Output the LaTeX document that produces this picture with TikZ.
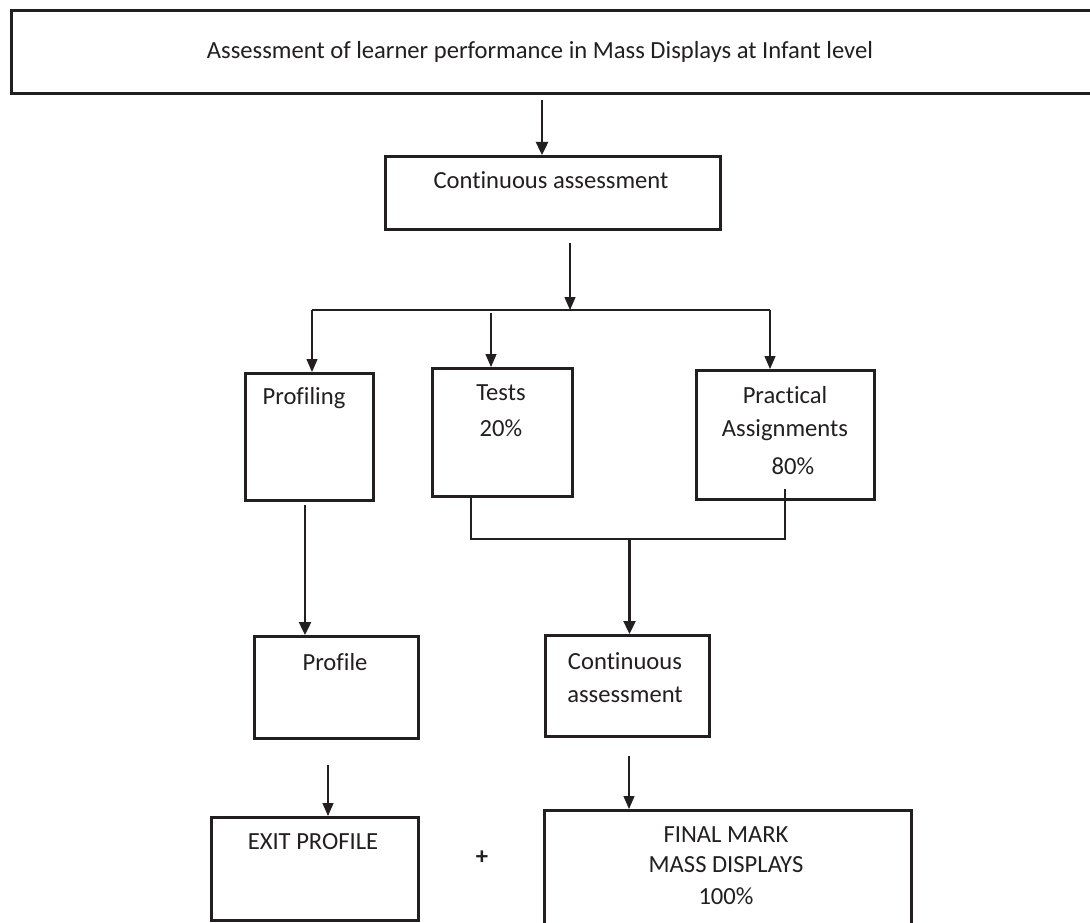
\documentclass[tikz,border=0pt]{standalone}
\usepackage{fontspec}
\setmainfont{Carlito}[RawFeature={-liga;-clig;-dlig}]
\usetikzlibrary{arrows.meta,calc}
\definecolor{ink}{HTML}{231F20}
\tikzset{
  box/.style={draw=ink, line width=2.6pt, rectangle, inner sep=0pt, anchor=north west},
  txt/.style={text=ink, font=\fontsize{24.6}{29}\selectfont, inner sep=0pt, anchor=center},
  thinarr/.style={draw=ink, line width=1.3pt, -{Triangle[length=13pt,width=11pt]}},
  thickarr/.style={draw=ink, line width=2.4pt, -{Triangle[length=13pt,width=12pt]}},
  thinline/.style={draw=ink, line width=1.3pt},
  thickline/.style={draw=ink, line width=2.8pt}
}
\begin{document}
\begin{tikzpicture}[x=1pt,y=-1pt]
\useasboundingbox (0,0) rectangle (1090,923);
\fill[white] (0,0) rectangle (1090,923);
% boxes
\node[box, minimum width=1100pt, minimum height=83pt] (top) at (10,9) {};
\node[box, minimum width=335pt, minimum height=73pt] (cont) at (384,155) {};
\node[box, minimum width=128pt, minimum height=127pt] (prof) at (244,372) {};
\node[box, minimum width=140pt, minimum height=128pt] (tests) at (431,367) {};
\node[box, minimum width=178pt, minimum height=129pt] (prac) at (695,369) {};
\node[box, minimum width=164pt, minimum height=102pt] (profile) at (253,635) {};
\node[box, minimum width=164pt, minimum height=101pt] (cont2) at (544,634) {};
\node[box, minimum width=207pt, minimum height=103pt] (exit) at (210,816) {};
\node[box, minimum width=367pt, minimum height=130pt] (final) at (543,809) {};
% texts
\node[txt] (ttop) at (540,52) {Assessment of learner performance in Mass Displays at Infant level};
\node[txt] (tcont) at (551,180) {Continuous assessment};
\node[txt] (tprof) at (304,398) {Profiling};
\node[txt] (ttests) at (501,393) {Tests};
\node[txt] (ttests2) at (501,428) {20\%};
\node[txt] (tprac) at (785,395) {Practical};
\node[txt] (tprac2) at (785,430) {Assignments};
\node[txt] (tprac3) at (793,466) {80\%};
\node[txt] (tprofile) at (335,662) {Profile};
\node[txt] (tcont2) at (625,661) {Continuous};
\node[txt] (tcont2b) at (625,695) {assessment};
\node[txt] (texit) at (313,842) {EXIT PROFILE};
\node[txt] (tfin) at (726,835) {FINAL MARK};
\node[txt] (tfin2) at (726,865) {MASS DISPLAYS};
\node[txt] (tfin3) at (726,896) {100\%};
\node[txt, font=\bfseries\fontsize{24.6}{29}\selectfont] (plus) at (482,858) {+};
% connectors
\coordinate (a1) at (542,100);
\draw[thickarr] (a1) -- (a1 |- cont.north);
\coordinate (a2) at (570,243);
\coordinate (bus) at (570,310);
\draw[thinarr] (a2) -- (bus);
\coordinate (busL) at (312,310);
\coordinate (busR) at (770,310);
\draw[thinline] (busL) -- (busR);
\draw[thinarr] (busL) -- (busL |- prof.north);
\coordinate (tb) at (491,313);
\draw[thinarr] (tb) -- (tb |- tests.north);
\draw[thinarr] (busR) -- (busR |- prac.north);
\coordinate (jl) at (471,498);
\coordinate (jr) at (785,489);
\coordinate (jy) at (0,539);
\draw[thickline] (jl) -- (jl |- jy) -- (jr |- jy) -- (jr);
\coordinate (jm) at (629.5,539);
\draw[thickarr] (jm) -- (jm |- cont2.north);
\coordinate (pp) at (305,505);
\draw[thickarr] (pp) -- (pp |- profile.north);
\coordinate (pe) at (328,765);
\draw[thinarr] (pe) -- (pe |- exit.north);
\coordinate (cf) at (629,756);
\draw[thinarr] (cf) -- (cf |- final.north);
\end{tikzpicture}
\end{document}
